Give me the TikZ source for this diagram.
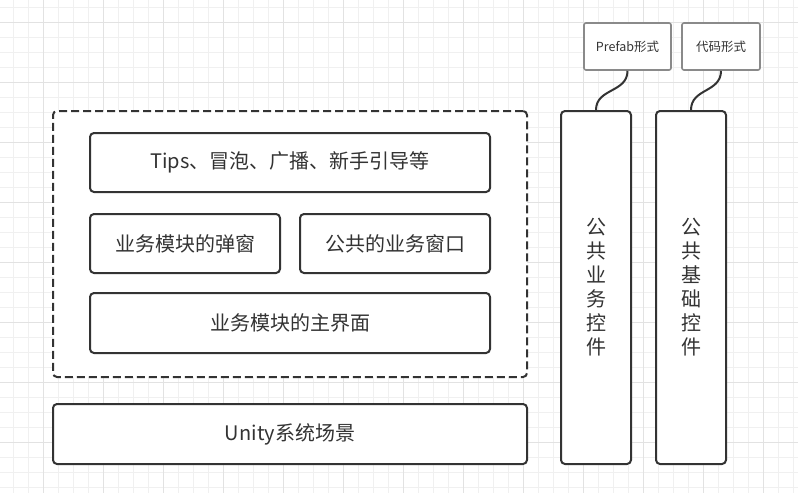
\documentclass[tikz,border=0pt]{standalone}
\usepackage{fontspec}
\setmainfont{Noto Sans CJK SC}
\begin{document}
\begin{tikzpicture}[x=1pt,y=-1pt,
  box/.style={draw=boxc,line width=2pt,rounded corners=4pt,fill=white,text=txt,inner sep=0pt,font=\fontsize{20}{24}\selectfont},
  tag/.style={draw=tagc,line width=1.6pt,rounded corners=2pt,fill=white,text=txt,inner sep=0pt,font=\fontsize{12.5}{14}\selectfont},
  link/.style={draw=boxc,line width=2pt}]
\definecolor{boxc}{HTML}{333333}
\definecolor{txt}{HTML}{333333}
\definecolor{tagc}{HTML}{8A8A8A}
\definecolor{gminor}{HTML}{F0F0F0}
\definecolor{gmajor}{HTML}{E2E2E2}
\useasboundingbox (0,0) rectangle (798,493);
\fill[white] (0,0) rectangle (798,493);
\foreach \k in {0,...,52} {\draw[gminor,line width=0.8pt] ({13.3+15*\k},0) -- ({13.3+15*\k},493);}
\foreach \k in {0,...,32} {\draw[gminor,line width=0.8pt] (0,{7.3+15*\k}) -- (798,{7.3+15*\k});}
\foreach \k in {0,...,12} {\draw[gmajor,line width=0.8pt] ({43.3+60*\k},0) -- ({43.3+60*\k},493);}
\foreach \k in {0,...,7} {\draw[gmajor,line width=0.8pt] (0,{22.3+60*\k}) -- (798,{22.3+60*\k});}

\node[box,dash pattern=on 8pt off 4pt,minimum width=474pt,minimum height=266pt] (outer) at (290,244) {};
\node[box,minimum width=400pt,minimum height=59pt] (tips) at (290,162.5) {Tips、冒泡、广播、新手引导等};
\node[box,minimum width=190pt,minimum height=59pt] (popup) at (185,243.5) {业务模块的弹窗};
\node[box,minimum width=190pt,minimum height=59pt] (pubwin) at (395,243.5) {公共的业务窗口};
\node[box,minimum width=400pt,minimum height=60pt] (main) at (290,323) {业务模块的主界面};
\node[box,minimum width=474pt,minimum height=60pt] (unity) at (290,434) {Unity系统场景};
\node[box,minimum width=70pt,minimum height=353pt,align=center] (bizctl) at (596,287.5) {公\\共\\业\\务\\控\\件};
\node[box,minimum width=70pt,minimum height=353pt,align=center] (basectl) at (691,287.5) {公\\共\\基\\础\\控\\件};
\node[tag,minimum width=87pt,minimum height=47pt] (prefab) at (627.5,46.5) {Prefab形式};
\node[tag,minimum width=78pt,minimum height=47pt] (code) at (721,46.5) {代码形式};

\draw[link] (prefab.south) .. controls ([yshift=-22pt]prefab.south) and ([yshift=22pt]bizctl.north) .. (bizctl.north);
\draw[link] (code.south) .. controls ([yshift=-22pt]code.south) and ([yshift=22pt]basectl.north) .. (basectl.north);
\end{tikzpicture}
\end{document}
